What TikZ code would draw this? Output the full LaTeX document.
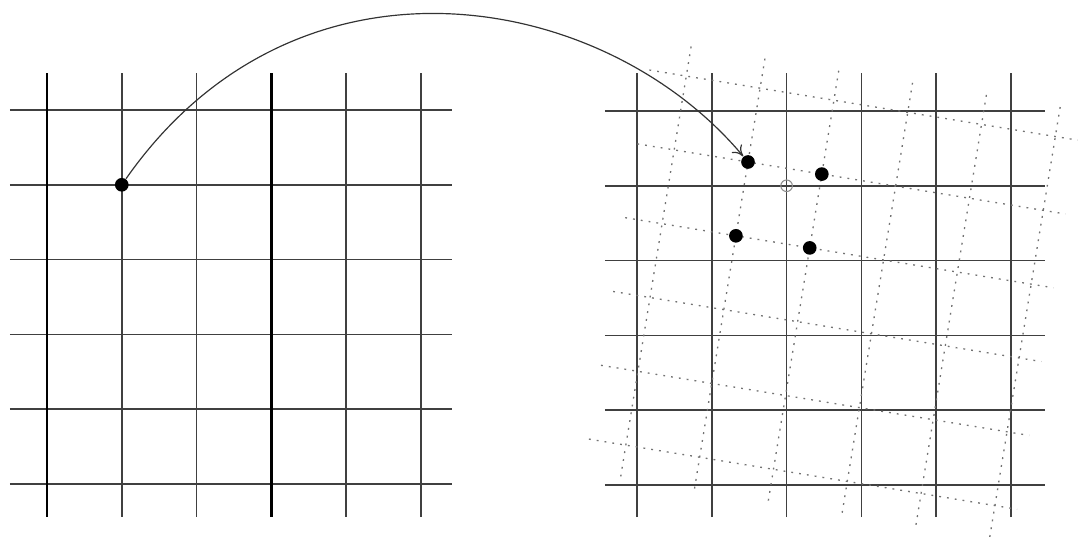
\documentclass[tikz,border=0pt]{standalone}
\usepackage{tikz}
\usetikzlibrary{arrows.meta}

\begin{document}
\begin{tikzpicture}[
  gridline/.style={line width=0.6pt, color=black!75},
  boldline/.style={line width=0.95pt, color=black},
  warpline/.style={line width=0.5pt, color=black!55, dash pattern=on 0.7pt off 2.3pt},
  sample/.style={circle, fill=black, inner sep=0pt, minimum size=5.2pt},
  target/.style={circle, draw=black!45, line width=0.4pt, inner sep=0pt, minimum size=4.4pt},
  >={To[length=4pt,width=5pt]},
  arrline/.style={->, line width=0.45pt, color=black!80},
]
\useasboundingbox (0,0) rectangle (14.4385,7.2326);

% ============ Source grid (left) ============
\begin{scope}[shift={(0.628,0.762)}]
  \foreach \k in {0,...,5} {
    \draw[gridline] (-0.495,\k) -- (5.41,\k);
  }
  \foreach \i in {1,2,4,5} {
    \draw[gridline] (\i,-0.44) -- (\i,5.49);
  }
  \foreach \i in {0,3} {
    \draw[boldline] (\i,-0.44) -- (\i,5.49);
  }
  \node[sample] (src) at (1,4) {};
\end{scope}

% ============ Target grid (right) ============
\begin{scope}[shift={(8.516,0.749)}]
  \foreach \i in {0,...,5} {
    \draw[gridline] (-0.428,\i) -- (5.45,\i);
    \draw[gridline] (\i,-0.43) -- (\i,5.51);
  }
  \node[target] (dst) at (2,4) {};
\end{scope}

% ============ Warped grid (dotted, over the target) ============
\begin{scope}[shift={(10.0,5.067)}, rotate=-9.3]
  \foreach \j in {-1,...,4} {
    \draw[warpline] (\j,1.4) -- (\j,-4.5);
  }
  \foreach \k in {1,0,...,-4} {
    \draw[warpline] (-1.5,\k) -- (4.3,\k);
  }
  \node[sample] (nw) at (0,0) {};
  \node[sample] (ne) at (1,0) {};
  \node[sample] (sw) at (0,-1) {};
  \node[sample] (se) at (1,-1) {};
\end{scope}

% ===================== ARROWS =====================

% source point mapped into the warped grid
\draw[arrline] (src) to[out=55, in=130, out looseness=1.23, in looseness=0.9] (nw);

\end{tikzpicture}
\end{document}
